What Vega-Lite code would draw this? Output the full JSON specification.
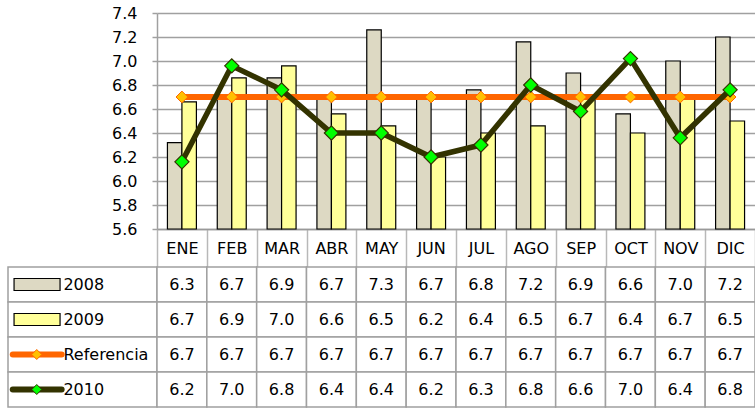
{
  "$schema": "https://vega.github.io/schema/vega-lite/v6.json",
  "padding": {"left": 7, "top": 5, "right": 0, "bottom": 0},
  "background": "white",
  "config": {
    "view": {"stroke": null},
    "font": "DejaVu Sans",
    "axis": {"labelFont": "DejaVu Sans", "labelColor": "#000000"}
  },
  "datasets": {
    "datos": [
      {"mes": "ENE", "serie": "2008", "valor": 6.32},
      {"mes": "FEB", "serie": "2008", "valor": 6.70},
      {"mes": "MAR", "serie": "2008", "valor": 6.86},
      {"mes": "ABR", "serie": "2008", "valor": 6.68},
      {"mes": "MAY", "serie": "2008", "valor": 7.26},
      {"mes": "JUN", "serie": "2008", "valor": 6.68},
      {"mes": "JUL", "serie": "2008", "valor": 6.76},
      {"mes": "AGO", "serie": "2008", "valor": 7.16},
      {"mes": "SEP", "serie": "2008", "valor": 6.90},
      {"mes": "OCT", "serie": "2008", "valor": 6.56},
      {"mes": "NOV", "serie": "2008", "valor": 7.00},
      {"mes": "DIC", "serie": "2008", "valor": 7.20},
      {"mes": "ENE", "serie": "2009", "valor": 6.66},
      {"mes": "FEB", "serie": "2009", "valor": 6.86},
      {"mes": "MAR", "serie": "2009", "valor": 6.96},
      {"mes": "ABR", "serie": "2009", "valor": 6.56},
      {"mes": "MAY", "serie": "2009", "valor": 6.46},
      {"mes": "JUN", "serie": "2009", "valor": 6.20},
      {"mes": "JUL", "serie": "2009", "valor": 6.40},
      {"mes": "AGO", "serie": "2009", "valor": 6.46},
      {"mes": "SEP", "serie": "2009", "valor": 6.68},
      {"mes": "OCT", "serie": "2009", "valor": 6.40},
      {"mes": "NOV", "serie": "2009", "valor": 6.68},
      {"mes": "DIC", "serie": "2009", "valor": 6.50},
      {"mes": "ENE", "serie": "Referencia", "valor": 6.7},
      {"mes": "FEB", "serie": "Referencia", "valor": 6.7},
      {"mes": "MAR", "serie": "Referencia", "valor": 6.7},
      {"mes": "ABR", "serie": "Referencia", "valor": 6.7},
      {"mes": "MAY", "serie": "Referencia", "valor": 6.7},
      {"mes": "JUN", "serie": "Referencia", "valor": 6.7},
      {"mes": "JUL", "serie": "Referencia", "valor": 6.7},
      {"mes": "AGO", "serie": "Referencia", "valor": 6.7},
      {"mes": "SEP", "serie": "Referencia", "valor": 6.7},
      {"mes": "OCT", "serie": "Referencia", "valor": 6.7},
      {"mes": "NOV", "serie": "Referencia", "valor": 6.7},
      {"mes": "DIC", "serie": "Referencia", "valor": 6.7},
      {"mes": "ENE", "serie": "2010", "valor": 6.16},
      {"mes": "FEB", "serie": "2010", "valor": 6.96},
      {"mes": "MAR", "serie": "2010", "valor": 6.76},
      {"mes": "ABR", "serie": "2010", "valor": 6.40},
      {"mes": "MAY", "serie": "2010", "valor": 6.40},
      {"mes": "JUN", "serie": "2010", "valor": 6.20},
      {"mes": "JUL", "serie": "2010", "valor": 6.30},
      {"mes": "AGO", "serie": "2010", "valor": 6.80},
      {"mes": "SEP", "serie": "2010", "valor": 6.58},
      {"mes": "OCT", "serie": "2010", "valor": 7.02},
      {"mes": "NOV", "serie": "2010", "valor": 6.36},
      {"mes": "DIC", "serie": "2010", "valor": 6.76}
    ]
  },
  "columns": 2,
  "align": "each",
  "bounds": "flush",
  "spacing": {"row": 38, "column": 0},
  "concat": [
    {
      "width": 149,
      "height": 216,
      "data": {"values": []},
      "mark": {"type": "text"},
      "encoding": {}
    },
    {
      "width": 598,
      "height": 216,
      "data": {"name": "datos"},
      "encoding": {
        "x": {
          "field": "mes", "type": "nominal",
          "sort": ["ENE","FEB","MAR","ABR","MAY","JUN","JUL","AGO","SEP","OCT","NOV","DIC"],
          "scale": {"paddingInner": 0, "paddingOuter": 0},
          "axis": {
            "title": null, "orient": "bottom", "grid": false,
            "domain": true, "domainColor": "#999999", "domainWidth": 1.5,
            "ticks": true, "tickBand": "extent", "tickSize": 38, "tickColor": "#b8b8b8", "tickWidth": 1.5,
            "labelAngle": 0, "labelFontSize": 16, "labelBaseline": "middle", "labelPadding": -19
          }
        },
        "y": {
          "field": "valor", "type": "quantitative",
          "scale": {"domain": [5.6, 7.4], "zero": false, "nice": false},
          "axis": {
            "title": null,
            "values": [5.6, 5.8, 6.0, 6.2, 6.4, 6.6, 6.8, 7.0, 7.2, 7.4],
            "format": ".1f",
            "grid": true, "gridColor": "#a0a0a0", "gridWidth": 1.5,
            "domainColor": "#a0a0a0", "domainWidth": 1.5,
            "tickSize": 5, "tickColor": "#a0a0a0", "tickWidth": 1.5,
            "labelFontSize": 16, "labelPadding": 15
          }
        }
      },
      "layer": [
        {
          "transform": [{"filter": "datum.serie == '2008' || datum.serie == '2009'"}],
          "mark": {"type": "bar", "stroke": "#000000", "strokeWidth": 1.2},
          "encoding": {
            "xOffset": {"field": "serie", "type": "nominal", "sort": ["2008", "2009"],
              "scale": {"paddingInner": 0, "paddingOuter": 0.72}},
            "y2": {"datum": 5.6},
            "color": {"field": "serie", "type": "nominal",
              "scale": {"domain": ["2008", "2009"], "range": ["#ddd9c3", "#ffff99"]}, "legend": null}
          }
        },
        {
          "transform": [{"filter": "datum.serie == 'Referencia'"}],
          "mark": {"type": "line", "color": "#ff6600", "strokeWidth": 6}
        },
        {
          "transform": [{"filter": "datum.serie == 'Referencia'"}],
          "mark": {"type": "point", "shape": "diamond", "filled": true, "fill": "#ffc000", "stroke": "#ff6600", "strokeWidth": 1, "size": 140, "opacity": 1}
        },
        {
          "transform": [{"filter": "datum.serie == '2010'"}],
          "mark": {"type": "line", "color": "#333300", "strokeWidth": 5.5}
        },
        {
          "transform": [{"filter": "datum.serie == '2010'"}],
          "mark": {"type": "point", "shape": "diamond", "filled": true, "fill": "#00ff00", "stroke": "#333300", "strokeWidth": 1.2, "size": 200, "opacity": 1}
        }
      ]
    },
    {
      "width": 149,
      "height": 140,
      "data": {"values": [{"serie": "2008"}, {"serie": "2009"}, {"serie": "Referencia"}, {"serie": "2010"}]},
      "encoding": {
        "y": {"field": "serie", "type": "nominal", "sort": ["2008", "2009", "Referencia", "2010"],
          "scale": {"paddingInner": 0, "paddingOuter": 0}, "axis": null}
      },
      "layer": [
        {"mark": {"type": "rect", "fill": "white", "stroke": "#a0a0a0", "strokeWidth": 1.5}},
        {
          "transform": [{"filter": "datum.serie == '2008'"}],
          "mark": {"type": "point", "shape": "M-1,-0.26H1V0.26H-1Z", "filled": true, "fill": "#ddd9c3", "stroke": "#000000", "strokeWidth": 1.2, "size": 2116, "opacity": 1},
          "encoding": {"x": {"datum": 0.195, "type": "quantitative", "scale": {"domain": [0, 1]}, "axis": null}}
        },
        {
          "transform": [{"filter": "datum.serie == '2009'"}],
          "mark": {"type": "point", "shape": "M-1,-0.26H1V0.26H-1Z", "filled": true, "fill": "#ffff99", "stroke": "#000000", "strokeWidth": 1.2, "size": 2116, "opacity": 1},
          "encoding": {"x": {"datum": 0.195, "type": "quantitative", "scale": {"domain": [0, 1]}, "axis": null}}
        },
        {
          "transform": [{"filter": "datum.serie == 'Referencia'"}],
          "mark": {"type": "rule", "color": "#ff6600", "strokeWidth": 6, "strokeCap": "round"},
          "encoding": {"x": {"datum": 0.032, "type": "quantitative", "scale": {"domain": [0, 1]}, "axis": null}, "x2": {"datum": 0.36}}
        },
        {
          "transform": [{"filter": "datum.serie == '2010'"}],
          "mark": {"type": "rule", "color": "#333300", "strokeWidth": 6, "strokeCap": "round"},
          "encoding": {"x": {"datum": 0.032, "type": "quantitative", "scale": {"domain": [0, 1]}, "axis": null}, "x2": {"datum": 0.36}}
        },
        {
          "transform": [{"filter": "datum.serie == 'Referencia'"}],
          "mark": {"type": "point", "shape": "diamond", "filled": true, "fill": "#ffc000", "stroke": "#ff6600", "strokeWidth": 1, "size": 100, "opacity": 1},
          "encoding": {"x": {"datum": 0.193, "type": "quantitative", "scale": {"domain": [0, 1]}, "axis": null}}
        },
        {
          "transform": [{"filter": "datum.serie == '2010'"}],
          "mark": {"type": "point", "shape": "diamond", "filled": true, "fill": "#00ff00", "stroke": "#333300", "strokeWidth": 1, "size": 100, "opacity": 1},
          "encoding": {"x": {"datum": 0.193, "type": "quantitative", "scale": {"domain": [0, 1]}, "axis": null}}
        },
        {
          "mark": {"type": "text", "align": "left", "baseline": "middle", "fontSize": 16, "color": "#000000", "font": "DejaVu Sans"},
          "encoding": {
            "x": {"datum": 0.372, "type": "quantitative", "scale": {"domain": [0, 1]}, "axis": null},
            "text": {"field": "serie"}
          }
        }
      ]
    },
    {
      "width": 598,
      "height": 140,
      "data": {"name": "datos"},
      "encoding": {
        "x": {"field": "mes", "type": "nominal",
          "sort": ["ENE","FEB","MAR","ABR","MAY","JUN","JUL","AGO","SEP","OCT","NOV","DIC"],
          "scale": {"paddingInner": 0, "paddingOuter": 0}, "axis": null},
        "y": {"field": "serie", "type": "nominal", "sort": ["2008", "2009", "Referencia", "2010"],
          "scale": {"paddingInner": 0, "paddingOuter": 0}, "axis": null}
      },
      "layer": [
        {"mark": {"type": "rect", "fill": "white", "stroke": "#a0a0a0", "strokeWidth": 1.5}},
        {
          "mark": {"type": "text", "fontSize": 16, "color": "#000000", "baseline": "middle", "font": "DejaVu Sans"},
          "encoding": {"text": {"field": "valor", "type": "quantitative", "format": ".1f"}}
        }
      ]
    }
  ]
}
